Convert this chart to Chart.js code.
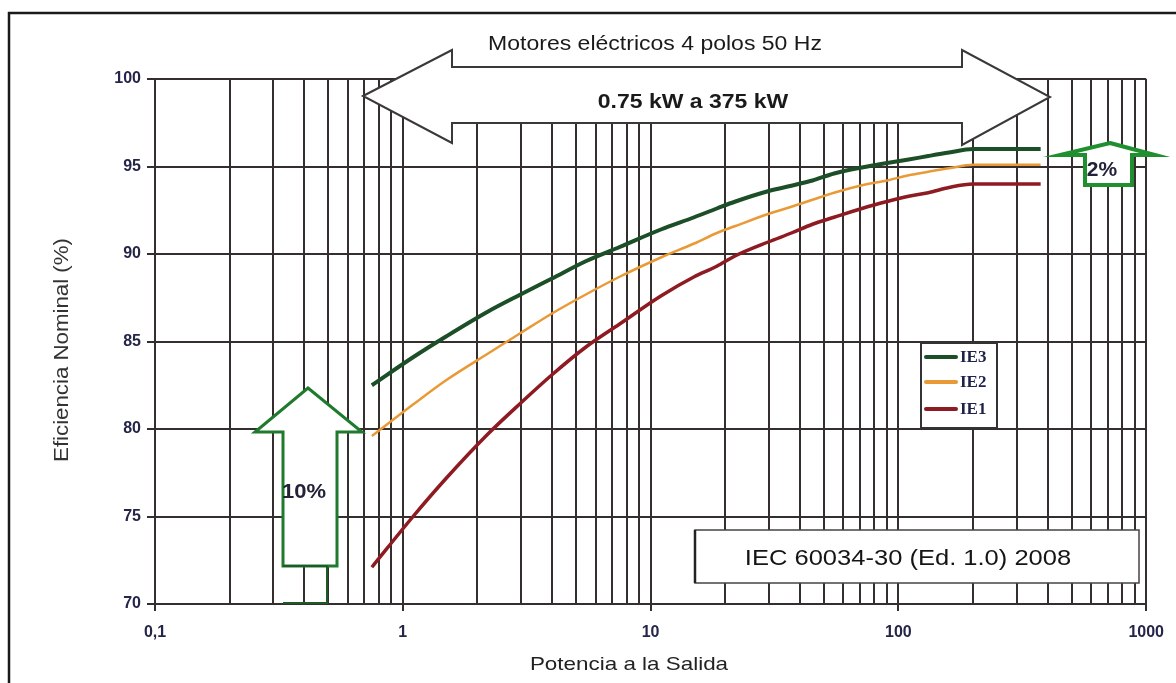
<!DOCTYPE html>
<html>
<head>
<meta charset="utf-8">
<script src="https://cdn.jsdelivr.net/npm/chart.js@4.4.1/dist/chart.umd.min.js"></script>
<style>
  html, body { margin: 0; padding: 0; background: #fff; }
  canvas { display: block; }
</style>
</head>
<body>
<canvas id="chart" width="1176" height="683"></canvas>
<script>
// motor ratings (kW) and IEC 60034-30 nominal efficiencies, 4 poles 50 Hz
const powerKW = [0.75, 1.1, 1.5, 2.2, 3, 4, 5.5, 7.5, 11, 15, 18.5, 22, 30, 37, 45, 55, 75, 90, 110, 132, 160, 200, 250, 315, 355, 375];
const ie3 = [82.5, 84.1, 85.3, 86.7, 87.7, 88.6, 89.6, 90.4, 91.4, 92.1, 92.6, 93.0, 93.6, 93.9, 94.2, 94.6, 95.0, 95.2, 95.4, 95.6, 95.8, 96.0, 96.0, 96.0, 96.0, 96.0];
const ie2 = [79.6, 81.4, 82.8, 84.3, 85.5, 86.6, 87.7, 88.7, 89.8, 90.6, 91.2, 91.6, 92.3, 92.7, 93.1, 93.5, 94.0, 94.2, 94.5, 94.7, 94.9, 95.1, 95.1, 95.1, 95.1, 95.1];
const ie1 = [72.1, 75.0, 77.2, 79.7, 81.5, 83.1, 84.7, 86.0, 87.6, 88.7, 89.3, 89.9, 90.7, 91.2, 91.7, 92.1, 92.7, 93.0, 93.3, 93.5, 93.8, 94.0, 94.0, 94.0, 94.0, 94.0];

const seriesNames = ['IE3', 'IE2', 'IE1'];
const xMajorValues = [0.1, 1, 10, 100, 1000];
const xTickLabels = ['0,1', '1', '10', '100', '1000'];

const gridColor = '#352e2e';
const tickTextColor = '#25254a';
const colors = { IE3: '#1c4f27', IE2: '#e99a36', IE1: '#8e1b22' };

// log grid: 1..9 in each decade
const xGrid = [];
for (let d = 0; d < xMajorValues.length - 1; d++) {
  for (let m = 1; m <= 9; m++) {
    xGrid.push({ value: Number((m * xMajorValues[d]).toPrecision(3)), major: m === 1 });
  }
}
xGrid.push({ value: 1000, major: true });

function pts(arr) {
  return powerKW.map((x, i) => ({ x: x, y: arr[i] }));
}

function stretchedText(ctx, text, x, y, font, color, sx, align) {
  ctx.save();
  ctx.translate(x, y);
  ctx.scale(sx, 1);
  ctx.font = font;
  ctx.fillStyle = color;
  ctx.textAlign = align || 'center';
  ctx.textBaseline = 'alphabetic';
  ctx.fillText(text, 0, 0);
  ctx.restore();
}

function polygon(ctx, points, stroke, width, fill) {
  ctx.beginPath();
  ctx.moveTo(points[0][0], points[0][1]);
  for (let i = 1; i < points.length; i++) ctx.lineTo(points[i][0], points[i][1]);
  ctx.closePath();
  if (fill) { ctx.fillStyle = fill; ctx.fill(); }
  ctx.strokeStyle = stroke;
  ctx.lineWidth = width;
  ctx.lineJoin = 'miter';
  ctx.stroke();
}

const decor = {
  id: 'decor',
  beforeDraw(chart) {
    const ctx = chart.ctx;
    ctx.save();
    ctx.fillStyle = '#fff';
    ctx.fillRect(0, 0, chart.width, chart.height);
    ctx.strokeStyle = '#1a1a1a';
    ctx.lineWidth = 2.5;
    ctx.strokeRect(9, 13, 1250, 750);
    ctx.restore();
  },
  afterDraw(chart) {
    const ctx = chart.ctx;
    ctx.save();

    // top double arrow
    polygon(ctx, [
      [363, 96], [452, 50], [452, 67], [962, 67], [962, 50], [1050, 97],
      [962, 145], [962, 123], [452, 123], [452, 143]
    ], '#3a3838', 2, '#fff');
    stretchedText(ctx, 'Motores eléctricos 4 polos 50 Hz', 655, 50, '19.5px Arial, "Liberation Sans", sans-serif', '#1a1a1a', 1.18);
    stretchedText(ctx, '0.75 kW a 375 kW', 693, 108, 'bold 19.5px Arial, "Liberation Sans", sans-serif', '#1a1a1a', 1.18);

    // 10% arrow
    polygon(ctx, [
      [308, 388], [362, 432], [337, 432], [337, 566], [283, 566], [283, 432], [255, 432]
    ], '#1f7a2e', 3, '#fff');
    ctx.strokeStyle = '#1d5a27';
    ctx.lineWidth = 2;
    ctx.beginPath();
    ctx.moveTo(283, 566); ctx.lineTo(327, 566); ctx.lineTo(327, 603); ctx.lineTo(283, 603);
    ctx.stroke();
    stretchedText(ctx, '10%', 304, 498, 'bold 20px Arial, "Liberation Sans", sans-serif', '#222238', 1.1);

    // 2% arrow
    polygon(ctx, [
      [1110, 143], [1155, 155], [1132, 155], [1132, 185], [1085, 185], [1085, 155], [1060, 155]
    ], '#1f8f2f', 4, '#fff');
    stretchedText(ctx, '2%', 1102, 176, 'bold 20px Arial, "Liberation Sans", sans-serif', '#222238', 1.05);

    // legend
    ctx.fillStyle = '#fff';
    ctx.fillRect(921, 343, 76, 85);
    ctx.strokeStyle = '#333';
    ctx.lineWidth = 2;
    ctx.strokeRect(921, 343, 76, 85);
    const legendY = [357, 382, 409];
    seriesNames.forEach((name, i) => {
      ctx.strokeStyle = colors[name];
      ctx.lineWidth = 4;
      ctx.lineCap = 'round';
      ctx.beginPath();
      ctx.moveTo(926, legendY[i]);
      ctx.lineTo(956, legendY[i]);
      ctx.stroke();
      ctx.font = 'bold 17px "Liberation Serif", "Times New Roman", serif';
      ctx.fillStyle = '#1e2148';
      ctx.textAlign = 'left';
      ctx.textBaseline = 'middle';
      ctx.fillText(name, 960, legendY[i] + 1);
    });
    ctx.lineCap = 'butt';

    // standard box
    ctx.fillStyle = '#fff';
    ctx.fillRect(695, 530, 444, 53);
    ctx.strokeStyle = '#444';
    ctx.lineWidth = 1.5;
    ctx.strokeRect(695, 530, 444, 53);
    ctx.lineWidth = 2.5;
    ctx.strokeStyle = '#222';
    ctx.beginPath(); ctx.moveTo(695, 530); ctx.lineTo(695, 583); ctx.stroke();
    stretchedText(ctx, 'IEC 60034-30 (Ed. 1.0) 2008', 908, 565, '22px Arial, "Liberation Sans", sans-serif', '#151515', 1.16);

    // axis titles
    stretchedText(ctx, 'Potencia a la Salida', 629, 670, '19px Arial, "Liberation Sans", sans-serif', '#222', 1.18);
    ctx.save();
    ctx.translate(68, 350);
    ctx.rotate(-Math.PI / 2);
    ctx.scale(1.06, 1);
    ctx.font = '21px Arial, "Liberation Sans", sans-serif';
    ctx.fillStyle = '#333';
    ctx.textAlign = 'center';
    ctx.textBaseline = 'alphabetic';
    ctx.fillText('Eficiencia Nominal (%)', 0, 0);
    ctx.restore();

    ctx.restore();
  }
};

const ctx = document.getElementById('chart').getContext('2d');
new Chart(ctx, {
  type: 'line',
  data: {
    datasets: [
      { label: 'IE3', data: pts(ie3), borderColor: colors.IE3, borderWidth: 4, pointRadius: 0, cubicInterpolationMode: 'monotone' },
      { label: 'IE2', data: pts(ie2), borderColor: colors.IE2, borderWidth: 2.5, pointRadius: 0, cubicInterpolationMode: 'monotone' },
      { label: 'IE1', data: pts(ie1), borderColor: colors.IE1, borderWidth: 3.5, pointRadius: 0, cubicInterpolationMode: 'monotone' }
    ]
  },
  options: {
    responsive: false,
    animation: false,
    devicePixelRatio: 1,
    layout: { padding: { left: 0, right: 27, top: 79, bottom: 0 } },
    plugins: {
      legend: { display: false },
      tooltip: { enabled: false }
    },
    scales: {
      x: {
        type: 'logarithmic',
        min: 0.1,
        max: 1000,
        afterBuildTicks(scale) {
          scale.ticks = xGrid.map(t => ({ value: t.value, major: t.major }));
        },
        afterFit(scale) { scale.height = 79; },
        ticks: {
          autoSkip: false,
          maxRotation: 0,
          padding: 12,
          color: tickTextColor,
          font: { family: 'Arial, "Liberation Sans", sans-serif', size: 16, weight: 'bold' },
          callback(value) {
            const i = xMajorValues.indexOf(Number(value));
            return i >= 0 ? xTickLabels[i] : '';
          }
        },
        grid: {
          color: gridColor,
          lineWidth: 2,
          tickLength: 7,
          tickColor: c => (c.tick && c.tick.major ? gridColor : 'rgba(0,0,0,0)')
        },
        border: { color: gridColor, width: 2 }
      },
      y: {
        min: 70,
        max: 100,
        afterFit(scale) { scale.width = 155; },
        ticks: {
          stepSize: 5,
          padding: 6,
          color: tickTextColor,
          font: { family: 'Arial, "Liberation Sans", sans-serif', size: 16, weight: 'bold' }
        },
        grid: { color: gridColor, lineWidth: 2, tickLength: 8 },
        border: { color: gridColor, width: 2 }
      }
    }
  },
  plugins: [decor]
});
</script>
</body>
</html>
